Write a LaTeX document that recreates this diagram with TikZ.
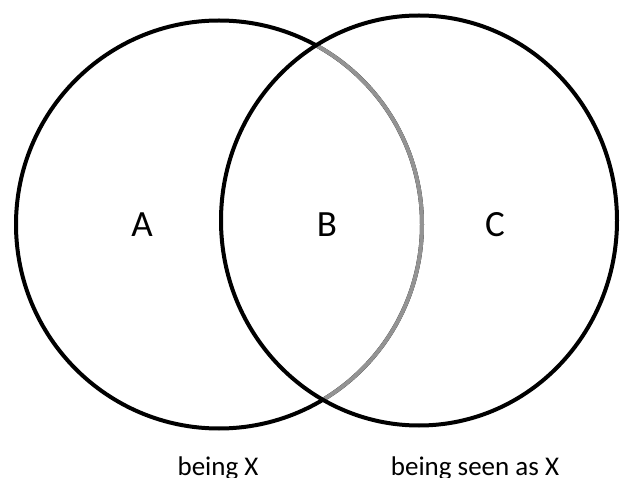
\documentclass[tikz,border=0pt]{standalone}
\usepackage{fontspec}
\setmainfont{Carlito}
\begin{document}
\begin{tikzpicture}[x=1pt,y=1pt,
  setline/.style={line width=4pt,black},
  grayline/.style={line width=4pt,color=gray!85},
  letter/.style={inner sep=0pt,font=\fontsize{37}{40}\selectfont},
  caption/.style={inner sep=0pt,anchor=base,font=\fontsize{27}{30}\selectfont}]
\useasboundingbox (0,0) rectangle (621,477);
\fill[white] (0,0) rectangle (621,477);
\coordinate (cl) at (219,252.5);
\coordinate (cr) at (419,256.5);
% left set
\draw[setline] (cl) ellipse [x radius=203, y radius=204];
% gray arc of the left set inside the right set
\begin{scope}
  \clip (cr) ellipse [x radius=198, y radius=205];
  \draw[grayline] (cl) ellipse [x radius=203, y radius=204];
\end{scope}
% right set
\draw[setline] (cr) ellipse [x radius=198, y radius=205];
\node[letter] (A) at (142,252) {A};
\node[letter] (B) at (327,252) {B};
\node[letter] (C) at (495,252) {C};
\node[caption] (being) at (218,1.5) {being X};
\node[caption] (seen) at (475,1.5) {being seen as X};
\end{tikzpicture}
\end{document}
